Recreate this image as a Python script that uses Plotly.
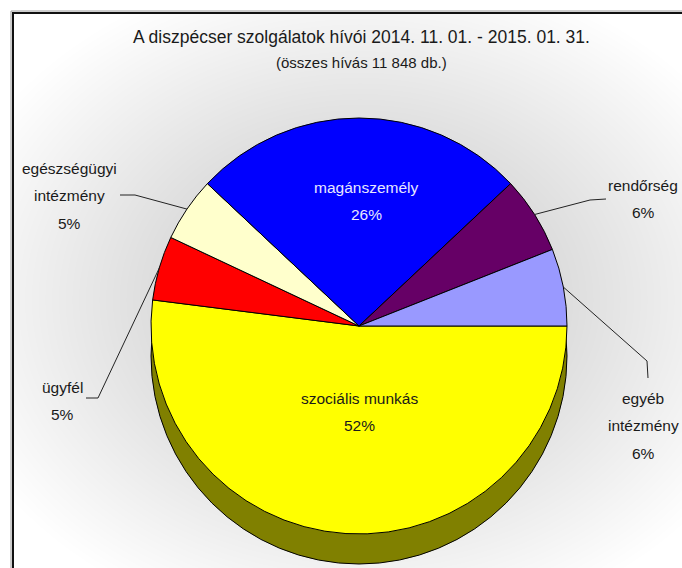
import math
import plotly.graph_objects as go

# ---- data ----
labels = ["szociális munkás", "ügyfél", "egészségügyi intézmény",
          "magánszemély", "rendőrség", "egyéb intézmény"]
percents = [52, 5, 5, 26, 6, 6]
colors = ["#FFFF00", "#FF0000", "#FFFFCC", "#0000FF", "#660066", "#9999FF"]
title_text = "A diszpécser szolgálatok hívói 2014. 11. 01. - 2015. 01. 31."
subtitle_text = "(összes hívás 11 848 db.)"

# label text lines (as printed on the chart)
label_lines = [["szociális munkás"], ["ügyfél"], ["egészségügyi", "intézmény"],
               ["magánszemély"], ["rendőrség"], ["egyéb", "intézmény"]]

# ---- layout geometry (pixels) ----
W, H = 682, 568
cx, cy, R = 359, 326, 208
depth = 30
FONT = "Liberation Sans, Arial, sans-serif"

fig = go.Figure()
fig.add_trace(go.Scatter(x=[], y=[], hoverinfo="skip", showlegend=False))

fig.add_trace(go.Pie(
    labels=labels, values=percents, sort=False, direction="clockwise",
    rotation=90, textinfo="none", hoverinfo="skip",
    marker=dict(colors=colors, line=dict(color="#000000", width=1)),
    domain=dict(x=[(cx - R) / W, (cx + R) / W],
                y=[1 - (cy + R) / H, 1 - (cy - R) / H]),
    showlegend=False,
))

shapes = []
# radial-ish gradient background
gx, gy = 360, 300
n = 36
for i in range(n):
    r = 1 - 0.55 * i / (n - 1)
    shapes.append(dict(type="circle", xref="x", yref="y", layer="below",
                       x0=gx - 430 * r, x1=gx + 430 * r, y0=gy - 340 * r, y1=gy + 340 * r,
                       fillcolor="black", opacity=0.0046, line=dict(width=0)))
# white outside of frame
shapes.append(dict(type="rect", xref="x", yref="y", layer="below", x0=-5, x1=12, y0=-5, y1=H + 5,
                   fillcolor="white", line=dict(width=0)))
shapes.append(dict(type="rect", xref="x", yref="y", layer="below", x0=-5, x1=W + 5, y0=-5, y1=12,
                   fillcolor="white", line=dict(width=0)))
# 3D side of the pie
shapes.append(dict(type="circle", xref="x", yref="y", layer="below",
                   x0=cx - R, x1=cx + R, y0=cy - R + depth, y1=cy + R + depth,
                   fillcolor="#808000", line=dict(color="#000000", width=1)))
# frame
shapes.append(dict(type="rect", xref="x", yref="y", layer="above", x0=11, x1=W + 20, y0=11, y1=H + 20,
                   line=dict(color="#9a9a9a", width=1)))
shapes.append(dict(type="rect", xref="x", yref="y", layer="above", x0=13, x1=W + 20, y0=13, y1=H + 20,
                   line=dict(color="#111111", width=2)))

# slice mid angles (clockwise from 3 o'clock)
total = sum(percents)
mids = []
acc = 0
for v in percents:
    mids.append((acc + v / 2) / total * 360)
    acc += v


def rim(idx):
    t = math.radians(mids[idx])
    return cx + R * math.cos(t), cy + R * math.sin(t)


# leader lines for outside labels: (slice index, start point, elbow point)
leaders = [(2, (120, 195), (135, 195)),
           (1, (86, 398), (98, 398)),
           (4, (606, 199), (590, 200)),
           (5, (648, 378), (647, 361))]
for idx, p0, p1 in leaders:
    px, py = rim(idx)
    shapes.append(dict(type="path", xref="x", yref="y", layer="above",
                       path=f"M{p0[0]},{p0[1]} L{p1[0]},{p1[1]} L{px:.1f},{py:.1f}",
                       line=dict(color="#222222", width=1)))

annotations = []


def txt(s, x, y, size=15.5, color="#1a1a1a"):
    annotations.append(dict(text=s, x=x, y=y, xref="x", yref="y", showarrow=False,
                            xanchor="center", yanchor="middle",
                            font=dict(family=FONT, size=size, color=color)))


txt(title_text, 361, 37, size=17.5)
txt(subtitle_text, 361, 62, size=15)

# label positions: (slice index, x, first-line y, color)
label_pos = [(0, 359, 398, "#1a1a1a"), (1, 62, 387, "#1a1a1a"), (2, 69, 168, "#1a1a1a"),
             (3, 366, 187, "#e8e8ff"), (4, 643, 185, "#1a1a1a"), (5, 643, 398, "#1a1a1a")]
for idx, x, y, col in label_pos:
    lines = label_lines[idx] + [f"{percents[idx]}%"]
    for k, s in enumerate(lines):
        txt(s, x, y + k * 27.5, color=col)

fig.update_layout(
    width=W, height=H, margin=dict(l=0, r=0, t=0, b=0),
    paper_bgcolor="white", plot_bgcolor="white",
    xaxis=dict(range=[0, W], visible=False, fixedrange=True),
    yaxis=dict(range=[H, 0], visible=False, fixedrange=True),
    shapes=shapes, annotations=annotations, showlegend=False,
)

fig.write_html("out.html", config={"displayModeBar": False},
               post_script="document.body.style.margin='0px';document.body.style.overflow='hidden';")
